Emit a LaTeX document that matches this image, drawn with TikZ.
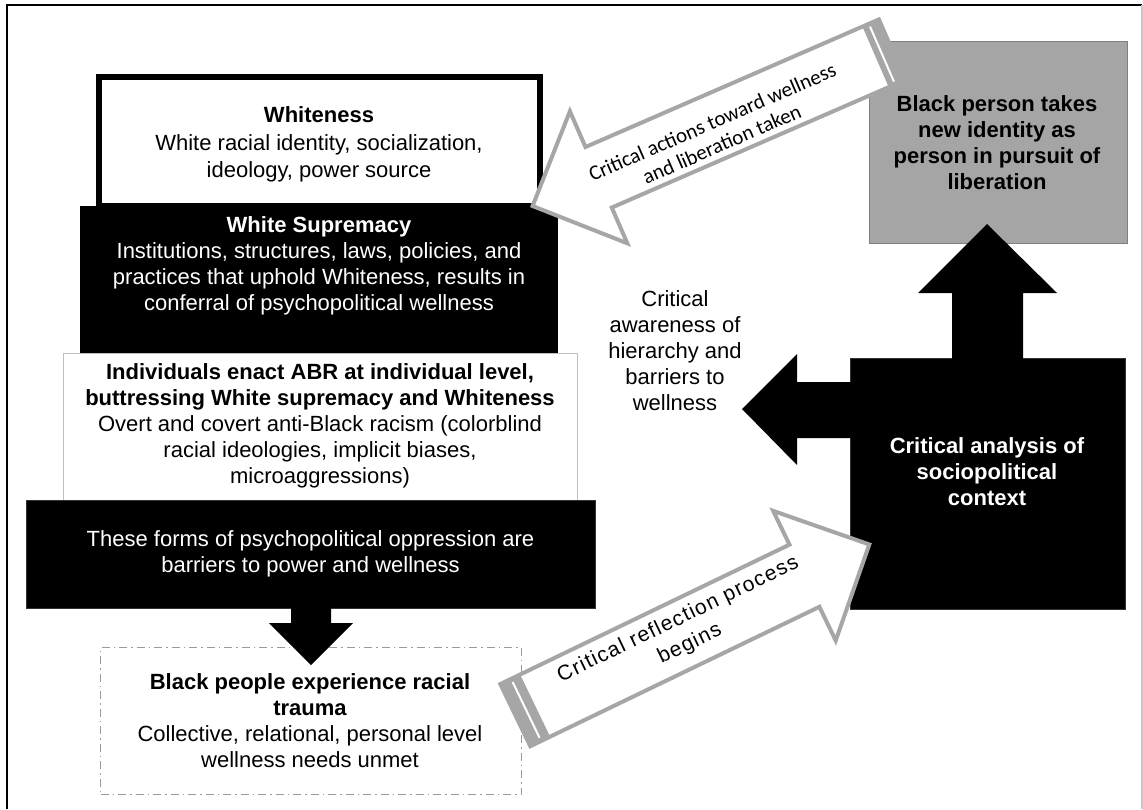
\documentclass[tikz,border=0pt]{standalone}
\usepackage{fontspec}
\setmainfont{Liberation Sans}
\newfontfamily\carlitofont{Carlito}
\newfontfamily\arrowfont[LetterSpace=6]{Liberation Sans}
\definecolor{arrgrey}{HTML}{A6A6A6}
\definecolor{boxgrey}{HTML}{A5A5A5}
\definecolor{boxedge}{HTML}{7F7F7F}
\definecolor{lightedge}{HTML}{BFBFBF}
\definecolor{dashgrey}{HTML}{9A9A9A}
\begin{document}
\begin{tikzpicture}[x=1pt,y=-1pt,
  txt/.style={align=center, inner sep=0pt, font=\fontsize{22}{26}\selectfont},
  wtxt/.style={txt, text=white},
  garrow/.style={draw=arrgrey, fill=white, line width=4pt, line join=miter},
  blackshape/.style={fill=black, draw=black!80, line width=0.6pt},
  frameline/.style={line width=1.8pt}
]
\useasboundingbox (0,0) rectangle (1143,809);
% frame
\coordinate (fbl) at (7,809);
\coordinate (ftl) at (7,5);
\coordinate (ftr) at (1142,5);
\coordinate (fbr) at (1142,809);
\draw[frameline] (fbl) -- (ftl) -- (ftr);
\draw[line width=1.5pt, color=black!22] (ftr) -- (fbr);

% left column boxes
\node[draw=lightedge, line width=1.2pt, fill=white, minimum width=514, minimum height=147, inner sep=0pt, anchor=north west] (indiv) at (63,353) {};
\draw[line width=6pt, fill=white] (99,77) rectangle (540,206);
\node[fill=black, minimum width=478, minimum height=147, inner sep=0pt, anchor=north west] (supr) at (80,206) {};
\node[blackshape, minimum width=569, minimum height=108, inner sep=0pt, anchor=north west] (forms) at (26,500) {};
\node[draw=dashgrey, line width=1.2pt, dash pattern=on 8pt off 4pt on 1.5pt off 4pt, minimum width=421, minimum height=147, inner sep=0pt, anchor=north west] (trauma) at (100,647) {};

\node[txt, font=\fontsize{22}{27.5}\selectfont] (twhite) at (319,144.5) {\textbf{Whiteness}\\White racial identity, socialization,\\ideology, power source};
\node[wtxt] (tsupr) at (319,266) {\textbf{White Supremacy}\\Institutions, structures, laws, policies, and\\practices that uphold Whiteness, results in\\conferral of psychopolitical wellness};
\node[txt] (tindiv) at (320,425.5) {\textbf{Individuals enact ABR at individual level,}\\\textbf{buttressing White supremacy and Whiteness}\\Overt and covert anti-Black racism (colorblind\\racial ideologies, implicit biases,\\microaggressions)};
\node[wtxt] (tforms) at (310.5,554) {These forms of psychopolitical oppression are\\barriers to power and wellness};
\node[txt] (ttrauma) at (310,721) {\textbf{Black people experience racial}\\\textbf{trauma}\\Collective, relational, personal level\\wellness needs unmet};

% down arrow
\fill[black] (291,606) -- (331,606) -- (331,623) -- (353,623) -- (311,665) -- (269,623) -- (291,623) -- cycle;

% grey box
\node[fill=boxgrey, draw=boxedge, line width=1pt, minimum width=258, minimum height=202, inner sep=0pt, anchor=north west] (liber) at (869,41) {};
\node[txt] (tliber) at (997,142.5) {\textbf{Black person takes}\\\textbf{new identity as}\\\textbf{person in pursuit of}\\\textbf{liberation}};

% upper grey arrow (critical actions)
\begin{scope}[shift={(893.9,48.9)}, rotate=203.5]
  \draw[garrow] (2,-33) -- (322,-33) -- (322,-72) -- (394,0) -- (322,72) -- (322,33) -- (2,33) -- cycle;
  \fill[arrgrey] (2,-33) rectangle (20,33);
  \draw[white, line width=2pt] (13,-30) -- (13,30);
\end{scope}
\node[rotate=23.5, inner sep=0pt, align=center, font=\carlitofont\fontsize{21}{24}\selectfont] (tactions) at (717,133) {Critical actions toward wellness\\and liberation taken};

% black analysis shape
\node[blackshape, minimum width=275, minimum height=251, inner sep=0pt, anchor=north west] (analysis) at (850,358) {};
\fill[black] (952,360) -- (952,293) -- (918,293) -- (987,224) -- (1057,293) -- (1023,293) -- (1023,360) -- cycle;
\fill[black] (852,382) -- (797,382) -- (797,354) -- (742,409) -- (797,465) -- (797,438) -- (852,438) -- cycle;
\node[wtxt] (tanalysis) at (987,472) {\textbf{Critical analysis of}\\\textbf{sociopolitical}\\\textbf{context}};

\node[txt] (taware) at (675,351) {Critical\\awareness of\\hierarchy and\\barriers to\\wellness};

% lower grey arrow (critical reflection)
\begin{scope}[shift={(513.5,716)}, rotate=25.74]
  \draw[garrow] (2,-34.5) -- (323,-34.5) -- (323,-72) -- (395,0) -- (323,72) -- (323,34.5) -- (2,34.5) -- cycle;
  \fill[arrgrey] (2,-34.5) rectangle (24,34.5);
  \draw[white, line width=2pt] (14,-31) -- (14,31);
\end{scope}
\node[rotate=25.74, inner sep=0pt, align=center, font=\arrowfont\fontsize{21}{27}\selectfont] (treflect) at (684,632) {Critical reflection process\\begins};
\end{tikzpicture}
\end{document}
